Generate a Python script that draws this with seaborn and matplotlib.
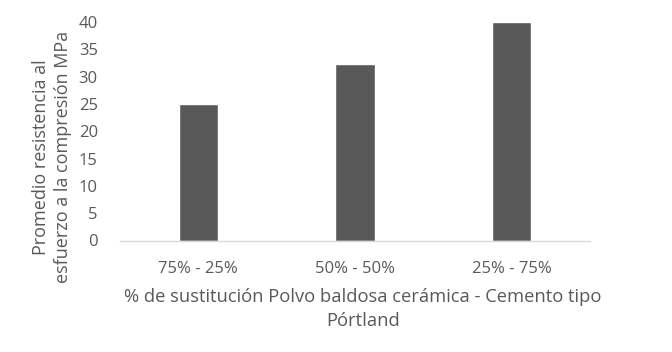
import matplotlib
matplotlib.use("Agg")
import matplotlib.pyplot as plt
import seaborn as sns
import pandas as pd

categories = ["75% - 25%", "50% - 50%", "25% - 75%"]
values = [25.0, 32.4, 40.0]
y_ticks = [0, 5, 10, 15, 20, 25, 30, 35, 40]

sns.set_style("white")
plt.rcParams['font.family'] = ['Open Sans', 'DejaVu Sans']

df = pd.DataFrame({"cat": categories, "val": values})

fig = plt.figure(figsize=(6.72, 3.52), dpi=100)
ax = fig.add_axes([120/672, 1-240.5/352, 470/672, (240.5-22)/352])
sns.barplot(data=df, x="cat", y="val", ax=ax, color="#595959", width=0.25,
            saturation=1)
ax.set_ylim(0, 40)
ax.set_xlim(-0.5, 2.5)
ax.set_yticks(y_ticks)
ax.set_yticklabels([str(t) for t in y_ticks])
ax.tick_params(axis='both', length=0, labelsize=12, colors="#595959")
ax.tick_params(axis='y', pad=16)
ax.tick_params(axis='x', pad=15)
for s in ["top", "right", "left"]:
    ax.spines[s].set_visible(False)
ax.spines["bottom"].set_color("#d9d9d9")
ax.spines["bottom"].set_linewidth(1.0)
ax.set_xlabel("")
ax.set_ylabel("")

fig.text(52/672, 1-157/352, "Promedio resistencia al\nesfuerzo a la compresión MPa",
         rotation=90, ha="center", va="center", fontsize=13, color="#595959",
         linespacing=1.35)
fig.text(363/672, 1-309/352, "% de sustitución Polvo baldosa cerámica - Cemento tipo\nPórtland",
         ha="center", va="center", fontsize=13.2, color="#595959", linespacing=1.4)

fig.savefig("out.png", dpi=100)
